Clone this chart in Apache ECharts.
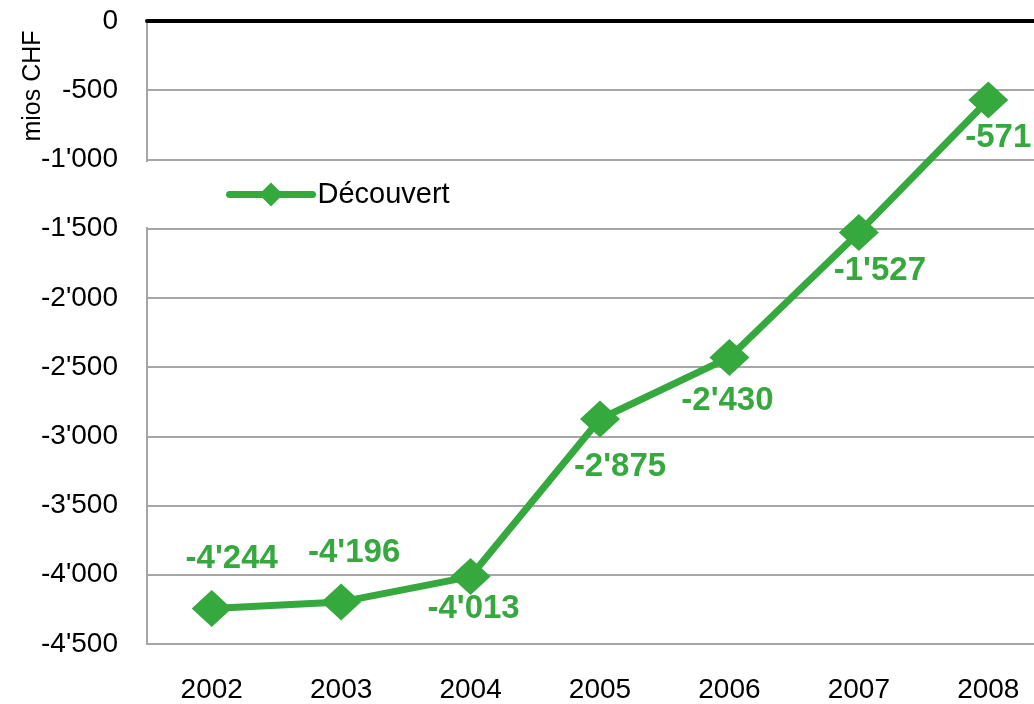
<!DOCTYPE html>
<html lang="fr">
<head>
    <meta charset="UTF-8">
    <title>Découvert</title>
    <script src="https://cdn.jsdelivr.net/npm/echarts@6/dist/echarts.min.js"></script>
    <style>
        html, body { margin: 0; padding: 0; background: #fff; overflow: hidden; }
        /* le graphique déborde à droite, comme dans l'original */
        #chart { width: 1060px; height: 704px; }
    </style>
</head>
<body>
<div id="chart"></div>
<script>
    // données
    var years = ['2002', '2003', '2004', '2005', '2006', '2007', '2008'];
    var decouvert = [-4244, -4196, -4013, -2875, -2430, -1527, -571];
    var yMin = -4500, yMax = 0, yStep = 500;

    var green = '#35a83e';
    var font = '"Liberation Sans", Arial, sans-serif';

    // décalage des étiquettes autour de chaque point
    var labelOffset = [[20, -50], [13, -49], [3, 32], [20, 48], [-2, 43], [21, 39], [10, 38]];

    function fmt(v) {
        var s = String(Math.abs(v)).replace(/\B(?=(\d{3})+(?!\d))/g, "'");
        return (v < 0 ? '-' : '') + s;
    }

    var seriesData = decouvert.map(function (v, i) {
        return { value: v, label: { offset: labelOffset[i] } };
    });

    var myChart = echarts.init(document.getElementById('chart'));
    var option = {
        animation: false,
        grid: { left: 147, top: 21, width: 906, height: 624 },
        legend: {
            data: ['Découvert'],
            left: 140,
            top: 162,
            selectedMode: false,
            backgroundColor: '#fff',
            padding: [18, 100, 18, 86],
            itemWidth: 83,
            itemHeight: 30,
            lineStyle: { width: 7, cap: 'round' },
            textStyle: { fontFamily: font, fontSize: 29, color: '#000' }
        },
        graphic: [{
            type: 'text',
            x: 33, y: 86,
            rotation: Math.PI / 2,
            style: {
                text: 'mios CHF',
                fontFamily: font, fontSize: 25, fill: '#000',
                align: 'center', verticalAlign: 'middle'
            }
        }],
        xAxis: [{
            type: 'category',
            data: years,
            position: 'bottom',
            axisLine: { onZero: false, lineStyle: { color: '#a6a6a6', width: 2 } },
            axisTick: { show: false },
            axisLabel: { fontFamily: font, fontSize: 28, color: '#000', margin: 32 }
        }, {
            type: 'category',
            data: years,
            position: 'top',
            axisLine: { onZero: false, lineStyle: { color: '#000', width: 4, cap: 'round' } },
            axisTick: { show: false },
            axisLabel: { show: false }
        }],
        yAxis: {
            type: 'value',
            min: yMin, max: yMax, interval: yStep,
            axisLine: { show: true, lineStyle: { color: '#a6a6a6', width: 2 } },
            axisTick: { show: false },
            splitLine: { lineStyle: { color: '#a6a6a6', width: 2 } },
            axisLabel: {
                fontFamily: font, fontSize: 28, color: '#000', margin: 29,
                formatter: fmt
            }
        },
        series: [{
            name: 'Découvert',
            type: 'line',
            data: seriesData,
            symbol: 'diamond',
            symbolSize: [40, 37],
            itemStyle: { color: green },
            lineStyle: { color: green, width: 7 },
            z: 5,
            label: {
                show: true,
                position: 'inside',
                formatter: function (p) { return fmt(p.value); },
                fontFamily: font, fontSize: 33, fontWeight: 'bold', color: green
            }
        }]
    };
    myChart.setOption(option);
</script>
</body>
</html>
